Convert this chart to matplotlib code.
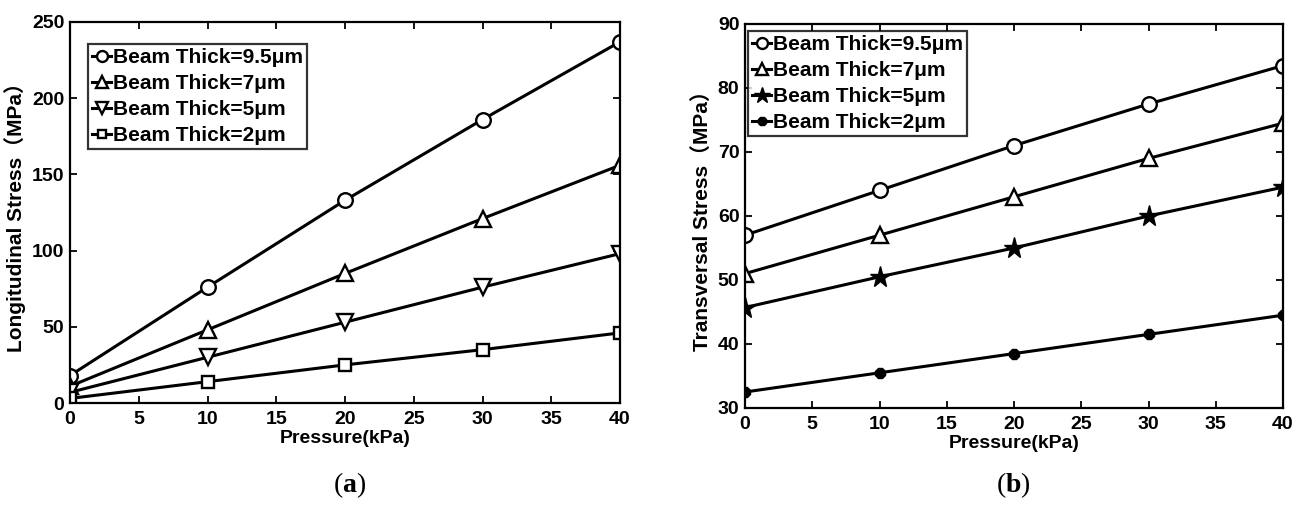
import matplotlib
matplotlib.use("Agg")
import matplotlib.pyplot as plt

plt.rcParams['font.family'] = ['Liberation Sans', 'Noto Sans CJK SC', 'DejaVu Sans']
plt.rcParams['font.weight'] = 'bold'
plt.rcParams['mathtext.fontset'] = 'custom'
plt.rcParams['mathtext.bf'] = 'Liberation Serif:bold'
plt.rcParams['mathtext.rm'] = 'Liberation Serif'

pressure = [0, 10, 20, 30, 40]

labels = ["Beam Thick=9.5\u03bcm", "Beam Thick=7\u03bcm", "Beam Thick=5\u03bcm", "Beam Thick=2\u03bcm"]

long_95 = [18, 76, 133, 186, 237]
long_7 = [11, 48, 85, 121, 156]
long_5 = [7, 30, 53, 76, 98]
long_2 = [3, 14, 25, 35, 46]

trans_95 = [57, 64, 71, 77.5, 83.5]
trans_7 = [51, 57, 63, 69, 74.5]
trans_5 = [45.7, 50.5, 55, 60, 64.5]
trans_2 = [32.5, 35.5, 38.5, 41.5, 44.5]

fig = plt.figure(figsize=(12.98, 5.05), dpi=100)

W, H = 1298, 505
def rect(l, t, r, b):
    return [l / W, 1 - b / H, (r - l) / W, (b - t) / H]

ax1 = fig.add_axes(rect(70, 22, 620, 403))
ax2 = fig.add_axes(rect(745, 24, 1283, 408))

FS = 14

def style(ax):
    for s in ax.spines.values():
        s.set_linewidth(1.6)
    ax.tick_params(direction='in', length=5, width=1.3, top=True, right=True,
                   labelsize=FS)
    ax.tick_params(axis='x', pad=6)
    ax.tick_params(axis='y', pad=4)
    for lab in ax.get_xticklabels() + ax.get_yticklabels():
        lab.set_fontweight('bold')

lw = 2.2
ms = 10.5
mfc = 'white'

# Panel (a)
ax1.plot(pressure, long_95, '-o', color='black', lw=lw, ms=ms, mfc=mfc, mew=1.7, label=labels[0])
ax1.plot(pressure, long_7, '-^', color='black', lw=lw, ms=ms + 1, mfc=mfc, mew=1.7, label=labels[1])
ax1.plot(pressure, long_5, '-v', color='black', lw=lw, ms=ms + 1, mfc=mfc, mew=1.7, label=labels[2])
ax1.plot(pressure, long_2, '-s', color='black', lw=lw, ms=ms - 2, mfc=mfc, mew=1.7, label=labels[3])
ax1.set_xlim(0, 40)
ax1.set_ylim(0, 250)
ax1.set_xticks(range(0, 41, 5))
ax1.set_yticks(range(0, 251, 50))
style(ax1)
ax1.set_xlabel("Pressure(kPa)", fontsize=FS, fontweight='bold', labelpad=1)
ax1.set_ylabel("Longitudinal Stress\uff08MPa\uff09", fontsize=FS + 1, fontweight='bold', labelpad=4)

# Panel (b)
ax2.plot(pressure, trans_95, '-o', color='black', lw=lw, ms=ms, mfc=mfc, mew=1.7, label=labels[0])
ax2.plot(pressure, trans_7, '-^', color='black', lw=lw, ms=ms + 1, mfc=mfc, mew=1.7, label=labels[1])
ax2.plot(pressure, trans_5, '-*', color='black', lw=lw, ms=ms + 5, mfc='black', mew=1.0, label=labels[2])
ax2.plot(pressure, trans_2, '-8', color='black', lw=lw, ms=ms - 2.5, mfc='black', mew=1.0, label=labels[3])
ax2.set_xlim(0, 40)
ax2.set_ylim(30, 90)
ax2.set_xticks(range(0, 41, 5))
ax2.set_yticks(range(30, 91, 10))
style(ax2)
ax2.set_xlabel("Pressure(kPa)", fontsize=FS, fontweight='bold', labelpad=1)
ax2.set_ylabel("Transversal Stress\uff08MPa\uff09", fontsize=FS + 1, fontweight='bold', labelpad=4)

for ax, (lx, ty) in [(ax1, (88, 44)), (ax2, (748, 31))]:
    leg = ax.legend(loc='upper left', bbox_to_anchor=(lx / W, 1 - ty / H),
                    bbox_transform=fig.transFigure, frameon=True, fancybox=False,
                    prop={'family': ['Liberation Sans', 'DejaVu Sans'], 'weight': 'bold', 'size': 15},
                    handlelength=0.9, handletextpad=0.1, borderpad=0.2, labelspacing=0.33,
                    borderaxespad=0, markerscale=0.75)
    leg.get_frame().set_edgecolor('black')
    leg.get_frame().set_linewidth(1.6)

fig.text(350 / W, 1 - 485 / H, r"($\mathbf{a}$)", fontsize=20, family='Liberation Serif',
         fontweight='normal', ha='center', va='center')
fig.text(1013 / W, 1 - 485 / H, r"($\mathbf{b}$)", fontsize=20, family='Liberation Serif',
         fontweight='normal', ha='center', va='center')

fig.savefig("out.png", dpi=100)
